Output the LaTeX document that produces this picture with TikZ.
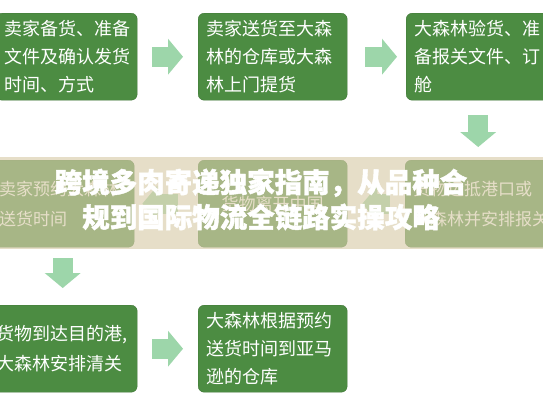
\documentclass[tikz,border=0pt]{standalone}
\usepackage{fontspec}
\newfontfamily\cjk{Noto Sans CJK SC}
\newfontfamily\cjkhead[FakeBold=1.6]{Noto Sans CJK SC}
\usetikzlibrary{arrows.meta}

\definecolor{boxgreen}{RGB}{76,140,66}
\definecolor{arrowgreen}{RGB}{157,214,170}
\definecolor{bandbeige}{RGB}{217,205,171}

\tikzset{
    stepbox/.style={fill=boxgreen, draw=boxgreen!85!black, rounded corners=6pt, text=white,
        anchor=north west, align=left, inner xsep=8pt, inner ysep=0pt, minimum height=87pt,
        font=\cjk\fontsize{18}{28}\selectfont},
    flow/.style={draw=arrowgreen, line width=20pt,
        -{Triangle[length=15pt, width=36pt, line width=0pt]}},
    headline/.style={text=white, align=center, inner sep=0pt,
        font=\cjkhead\bfseries\fontsize{27.5}{35}\selectfont}
}

\begin{document}
\begin{tikzpicture}[x=1pt, y=-1pt]
        \useasboundingbox (0, 0) rectangle (543, 408);
        \clip (0, 0) rectangle (543, 408);

        % Boxes, first row
        \node[stepbox, text width=125pt] (b1) at (-4, 13) {卖家备货、准备\\文件及确认发货\\时间、方式};
        \node[stepbox, text width=133pt] (b2) at (198, 13) {卖家送货至大森\\林的仓库或大森\\林上门提货};
        \node[stepbox, text width=128pt] (b3) at (406, 13) {大森林验货、准\\备报关文件、订\\舱};

        % Boxes, second row
        \node[stepbox, text width=127pt, font=\cjk\fontsize{17}{30}\selectfont] (m1) at (-9, 160) {卖家预约大森林\\送货时间};
        \node[stepbox, text width=133pt, align=center, font=\cjk\fontsize{17}{30}\selectfont] (m2) at (198, 160) {货物离开中国};
        \node[stepbox, text width=130pt, font=\cjk\fontsize{17}{30}\selectfont] (m3) at (405, 160) {货物运抵港口或\\大森林并安排报关};

        % Boxes, third row
        \node[stepbox, text width=133pt, font=\cjk\fontsize{18}{30}\selectfont] (r1) at (-12, 305) {货物到达目的港,\\大森林安排清关};
        \node[stepbox, text width=133pt] (r2) at (198, 305) {大森林根据预约\\送货时间到亚马\\逊的仓库};

        % Arrows
        \draw[flow, shorten <=15pt, shorten >=15pt] (b1) -- (b2);
        \draw[flow, shorten <=18pt, shorten >=9pt] (b2) -- (b3);
        \draw[flow, shorten <=15pt, shorten >=13pt] (b3) -- (m3);
        \draw[flow, shorten <=15pt, shorten >=15pt] (m3) -- (m2);
        \draw[flow, shorten <=20pt, shorten >=8pt] (m2) -- (m1);
        \draw[flow, shorten <=11pt, shorten >=17pt] (m1) -- (r1);
        \draw[flow, shorten <=15pt, shorten >=15pt] (r1) -- (r2);

        % Banner over the middle row
        \fill[bandbeige, opacity=0.65] (0, 157) rectangle (543, 249);
        \node[headline] (title) at (261, 199.5) {跨境多肉寄递独家指南，从品种合\\规到国际物流全链路实操攻略};

\end{tikzpicture}
\end{document}
